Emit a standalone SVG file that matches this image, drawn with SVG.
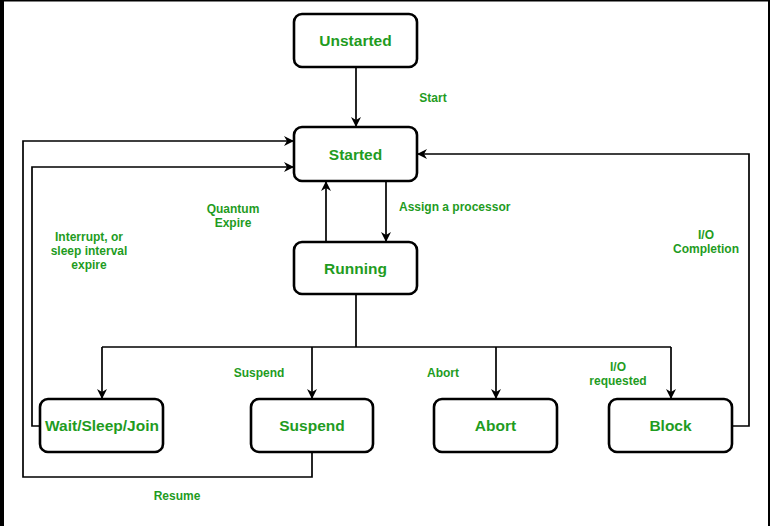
<svg xmlns="http://www.w3.org/2000/svg" width="770" height="526" viewBox="0 0 770 526">
<style>
.box{fill:#fff;stroke:#000;stroke-width:2.6}
.nt{font-family:"Liberation Sans",Arial,sans-serif;font-weight:bold;font-size:15.5px;fill:#1f9c1f;text-anchor:middle}
.lb{font-family:"Liberation Sans",Arial,sans-serif;font-weight:bold;font-size:12px;fill:#1f9c1f;text-anchor:middle}
.ln{fill:none;stroke:#000;stroke-width:1.7}
</style>
<defs>
<marker id="ah" viewBox="0 0 10 10" refX="10" refY="5" markerWidth="10" markerHeight="10" markerUnits="userSpaceOnUse" orient="auto">
<path d="M0,0 L10,5 L0,10 L3,5 Z" fill="#000"/>
</marker>
</defs>
<rect width="770" height="526" fill="#fff"/>
<rect x="0" y="0" width="4" height="526" fill="#000"/>
<rect x="0" y="0" width="770" height="1.5" fill="#000"/>
<rect x="768" y="0" width="2" height="526" fill="#000"/>
<g id="connectors">
<path class="ln" d="M356,67 V127" marker-end="url(#ah)"/>
<path class="ln" d="M386,181 V242" marker-end="url(#ah)"/>
<path class="ln" d="M326,242 V181" marker-end="url(#ah)"/>
<path class="ln" d="M312,452 V477 H23 V141 H294" marker-end="url(#ah)"/>
<path class="ln" d="M40,426 H32 V167 H294" marker-end="url(#ah)"/>
<path class="ln" d="M732,426 H749 V154 H417" marker-end="url(#ah)"/>
<path class="ln" d="M356,294 V347"/>
<path class="ln" d="M102,347 H671"/>
<path class="ln" d="M102,347 V399" marker-end="url(#ah)"/>
<path class="ln" d="M312,347 V399" marker-end="url(#ah)"/>
<path class="ln" d="M496,347 V399" marker-end="url(#ah)"/>
<path class="ln" d="M671,347 V399" marker-end="url(#ah)"/>
<text class="lb" x="433" y="102">Start</text>
<text class="lb" x="233" y="213">Quantum</text>
<text class="lb" x="233" y="227">Expire</text>
<text class="lb" x="89" y="241">Interrupt, or</text>
<text class="lb" x="89" y="255">sleep interval</text>
<text class="lb" x="89" y="269">expire</text>
<text class="lb" x="399" y="211" text-anchor="start" style="text-anchor:start">Assign a processor</text>
<text class="lb" x="706" y="239">I/O</text>
<text class="lb" x="706" y="253">Completion</text>
<text class="lb" x="259" y="377">Suspend</text>
<text class="lb" x="443" y="377">Abort</text>
<text class="lb" x="618" y="371">I/O</text>
<text class="lb" x="618" y="385">requested</text>
<text class="lb" x="177" y="500">Resume</text>
</g>
<g id="unstarted"><rect class="box" x="294" y="14" width="123" height="53" rx="8"/><text class="nt" x="355.5" y="46">Unstarted</text></g>
<g id="started"><rect class="box" x="294" y="127" width="123" height="54" rx="8"/><text class="nt" x="355.5" y="159.5">Started</text></g>
<g id="running"><rect class="box" x="294" y="242" width="123" height="52" rx="8"/><text class="nt" x="355.5" y="273.5">Running</text></g>
<g id="wait"><rect class="box" x="40" y="399" width="123" height="53" rx="8"/><text class="nt" x="102" y="431">Wait/Sleep/Join</text></g>
<g id="suspend"><rect class="box" x="251" y="399" width="122" height="53" rx="8"/><text class="nt" x="312" y="431">Suspend</text></g>
<g id="abort"><rect class="box" x="434" y="399" width="123" height="53" rx="8"/><text class="nt" x="495.5" y="431">Abort</text></g>
<g id="block"><rect class="box" x="609" y="399" width="123" height="53" rx="8"/><text class="nt" x="670.5" y="431">Block</text></g>
</svg>
